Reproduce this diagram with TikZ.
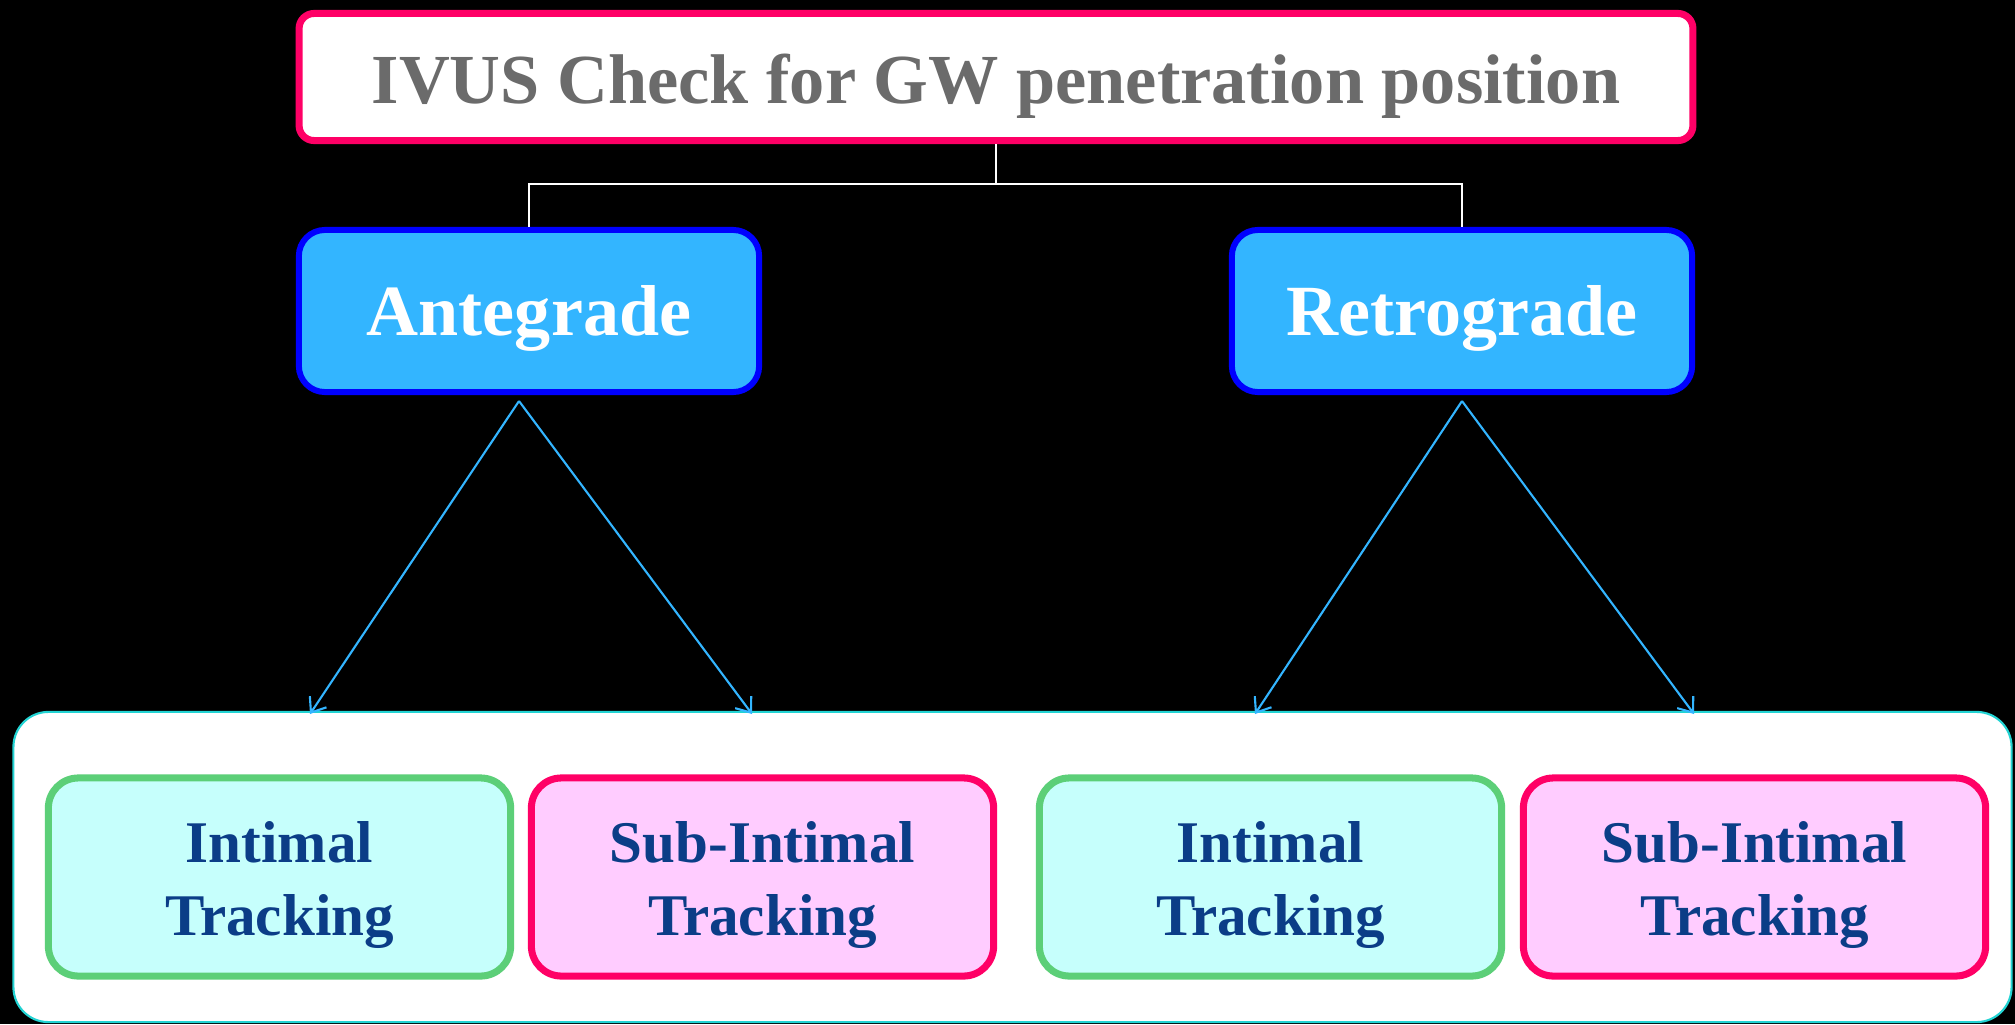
\documentclass[tikz,border=0pt]{standalone}
\usepackage{fontspec}
\setmainfont{Liberation Serif}
\usepackage{xcolor}
\usetikzlibrary{
    positioning,
    calc,
    arrows.meta
}
\definecolor{PinkLine}{HTML}{FF0066}
\definecolor{GreyText}{HTML}{6B6B6B}
\definecolor{BlueLine}{HTML}{0000FF}
\definecolor{SkyFill}{HTML}{33B5FF}
\definecolor{CyanLine}{HTML}{22D3D3}
\definecolor{GreenLine}{HTML}{5CCF78}
\definecolor{MintFill}{HTML}{C6FFFC}
\definecolor{RoseFill}{HTML}{FFCCFF}
\definecolor{NavyText}{HTML}{0B3D87}

\tikzset{
    titlebox/.style={
        draw=PinkLine,
        fill=white,
        line width=2pt,
        rounded corners=0.15cm,
        minimum width=13.93cm,
        minimum height=1.27cm,
        inner sep=0pt,
        text height=0.52cm,
        text depth=0pt,
        text=GreyText,
        font=\fontsize{20}{24}\selectfont\bfseries
    },
    sidebox/.style={
        draw=BlueLine,
        fill=SkyFill,
        line width=1.7pt,
        rounded corners=0.26cm,
        minimum width=4.6cm,
        minimum height=1.62cm,
        inner sep=0pt,
        text height=0.48cm,
        text depth=0pt,
        text=white,
        font=\fontsize{20.5}{24}\selectfont\bfseries
    },
    trackbox/.style={
        line width=2pt,
        rounded corners=0.3cm,
        minimum width=4.62cm,
        minimum height=1.98cm,
        inner sep=0pt
    },
    tracktext/.style={
        align=center,
        inner sep=0pt,
        yshift=-0.08cm,
        text=NavyText,
        font=\fontsize{16.8}{20.5}\selectfont\bfseries
    },
    intimal/.style={trackbox, draw=GreenLine, fill=MintFill},
    subintimal/.style={trackbox, draw=PinkLine, fill=RoseFill},
    branch/.style={draw=white, line width=0.6pt},
    pointer/.style={
        draw=SkyFill,
        line width=0.6pt,
        -{Straight Barb[length=0.13cm, width=0.2cm]}
    }
}

\begin{document}
\begin{tikzpicture}[x=0.01cm, y=-0.01cm]
    \fill[black] (0,0) rectangle (2015,1024);
    \path[use as bounding box] (0,0) rectangle (2015,1024);

    % header and the two approaches
    \node[titlebox] (title) at (996,77) {IVUS Check for GW penetration position};
    \node[sidebox] (ante) at (529,311) {Antegrade};
    \node[sidebox] (retro) at (1462,311) {Retrograde};

    \coordinate (split) at (996,184);
    \draw[branch] (title) -- (split) -| (ante);
    \draw[branch] (split) -| (retro);

    % results panel
    \node[
        draw=CyanLine,
        fill=white,
        line width=0.6pt,
        rounded corners=0.35cm,
        minimum width=19.97cm,
        minimum height=3.1cm
    ] (results) at (1012.5,867) {};

    \node[intimal, label={[tracktext]center:Intimal\\Tracking}] (intL) at (279.5,877) {};
    \node[subintimal, label={[tracktext]center:Sub-Intimal\\Tracking}] (subL) at (762.5,877) {};
    \node[intimal, label={[tracktext]center:Intimal\\Tracking}] (intR) at (1270.5,877) {};
    \node[subintimal, label={[tracktext]center:Sub-Intimal\\Tracking}] (subR) at (1754.5,877) {};

    % arrows down into the panel
    \coordinate (anteout) at ([shift={(-10,6)}]ante.south);
    \coordinate (retroout) at ([shift={(0,6)}]retro.south);
    \coordinate (tipA) at (310,714);
    \coordinate (tipB) at (752,714);
    \coordinate (tipC) at (1255,714);
    \coordinate (tipD) at (1694,714);

    \draw[pointer] (anteout) -- (tipA);
    \draw[pointer] (anteout) -- (tipB);
    \draw[pointer] (retroout) -- (tipC);
    \draw[pointer] (retroout) -- (tipD);
\end{tikzpicture}
\end{document}
